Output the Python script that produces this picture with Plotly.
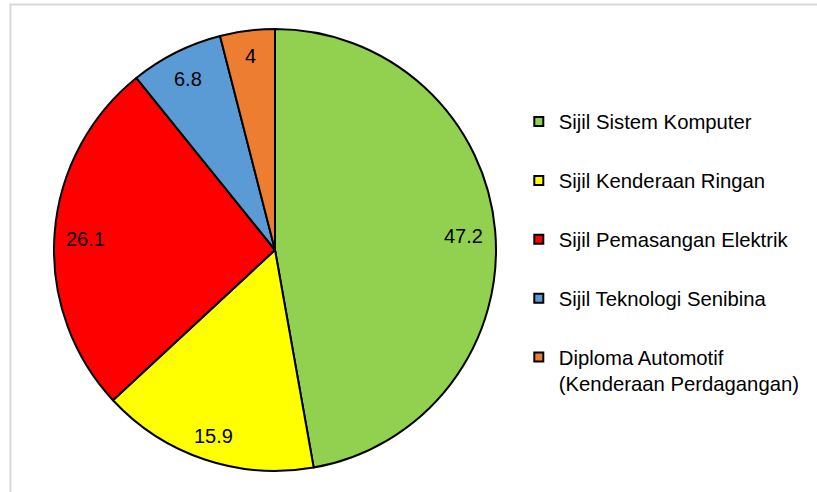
import math
import plotly.graph_objects as go

labels = ["Sijil Sistem Komputer", "Sijil Kenderaan Ringan", "Sijil Pemasangan Elektrik",
          "Sijil Teknologi Senibina", "Diploma Automotif<br>(Kenderaan Perdagangan)"]
values = [47.2, 15.9, 26.1, 6.8, 4]
value_text = ["47.2", "15.9", "26.1", "6.8", "4"]
colors = ["#92D050", "#FFFF00", "#FF0000", "#5B9BD5", "#ED7D31"]

W, H = 817, 492
FONT = "Liberation Sans, Arial, sans-serif"
LABEL_SIZE = 20

# pie placement (pixels)
cx, cy, R = 275, 250, 221
dom_x = [(cx - R) / W, (cx + R) / W]
dom_y = [1 - (cy + R) / H, 1 - (cy - R) / H]

fig = go.Figure()
fig.add_trace(go.Pie(
    labels=labels, values=values, sort=False, direction="clockwise", rotation=0,
    marker=dict(colors=colors, line=dict(color="#000000", width=2)),
    textinfo="none", hoverinfo="label+value", showlegend=False,
    domain=dict(x=dom_x, y=dom_y),
))

# data labels placed "inside end": text box kept a fixed inset from the rim
def text_half_width(t):
    return sum(0.278 if ch == "." else 0.556 for ch in t) * LABEL_SIZE / 2

total = sum(values)
cum = 0.0
annotations = []
inset, half_h, nudge_y = 11, 11, 2.5
for v, t in zip(values, value_text):
    mid = (cum + v / 2) / total * 2 * math.pi
    cum += v
    s, c = math.sin(mid), math.cos(mid)
    d = R - inset - (abs(s) * text_half_width(t) + abs(c) * half_h)
    px = cx + d * s
    py = cy - d * c + nudge_y
    annotations.append(dict(x=px / W, y=1 - py / H, xref="paper", yref="paper",
                            text=t, showarrow=False,
                            font=dict(family=FONT, size=LABEL_SIZE, color="#000000"),
                            xanchor="center", yanchor="middle"))

# legend entries via dummy traces
for lab, col in zip(labels, colors):
    fig.add_trace(go.Scatter(
        x=[None], y=[None], mode="markers", name=lab, legendgroup=lab,
        marker=dict(symbol="square", size=9, color=col, line=dict(color="#000000", width=2)),
        showlegend=True, hoverinfo="skip",
    ))

fig.update_layout(
    width=W, height=H,
    margin=dict(l=0, r=0, t=0, b=0),
    paper_bgcolor="#FFFFFF", plot_bgcolor="#FFFFFF",
    xaxis=dict(visible=False), yaxis=dict(visible=False),
    annotations=annotations,
    legend=dict(x=0.635, y=0.793, xanchor="left", yanchor="top",
                font=dict(family=FONT, size=20.3, color="#000000"),
                tracegroupgap=29.5, valign="top", bgcolor="rgba(0,0,0,0)"),
    shapes=[dict(type="rect", xref="paper", yref="paper",
                 x0=10.5 / W, x1=1.05, y0=-0.05, y1=1 - 4.5 / H,
                 line=dict(color="#D9D9D9", width=2), layer="below")],
)

fig.write_html("out.html", config={"displayModeBar": False},
               post_script="document.body.style.margin='0';document.body.style.overflow='hidden';")
